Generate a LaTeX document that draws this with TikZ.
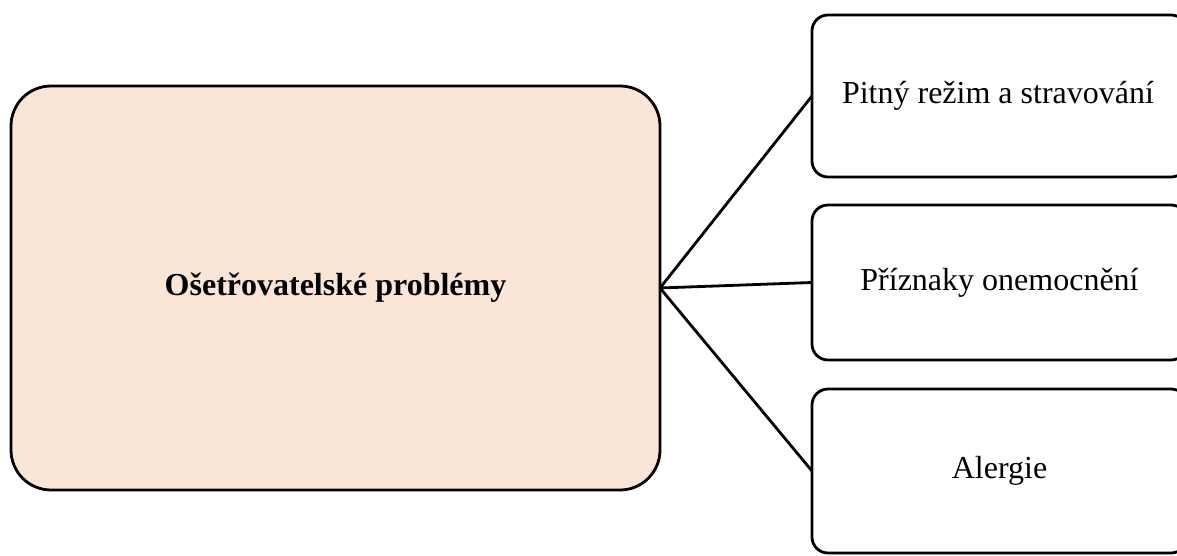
\documentclass[tikz,border=0pt]{standalone}
\usepackage{fontspec}
\setmainfont{Liberation Serif}
\definecolor{peach}{HTML}{FBE5D6}
\begin{document}
\begin{tikzpicture}[x=1pt,y=-1pt,
  mainbox/.style={draw=black, fill=peach, line width=2.8pt, rounded corners=40pt,
    minimum width=649pt, minimum height=404pt, inner sep=0pt, outer sep=0pt,
    font=\fontsize{32}{38}\selectfont\bfseries},
  sidebox/.style={draw=black, fill=white, line width=2.8pt, rounded corners=16pt,
    minimum width=375pt, inner sep=0pt, outer sep=0pt,
    font=\fontsize{32}{38}\selectfont},
  link/.style={draw=black, line width=2.8pt}]
\useasboundingbox (0,0) rectangle (1177,556);
\clip (0,0) rectangle (1177,556);
\node[mainbox] (main) at (335.5,288) {Ošetřovatelské problémy};
\node[sidebox, minimum height=162pt] (b1) at (999.5,96) {\hspace*{-3pt}Pitný režim a stravování};
\node[sidebox, minimum height=155pt] (b2) at (999.5,282.5) {Příznaky onemocnění};
\node[sidebox, minimum height=164pt] (b3) at (999.5,471) {Alergie};
\draw[link] (main.east) -- (b1.west);
\draw[link] (main.east) -- (b2.west);
\draw[link] (main.east) -- (b3.west);
\end{tikzpicture}
\end{document}
